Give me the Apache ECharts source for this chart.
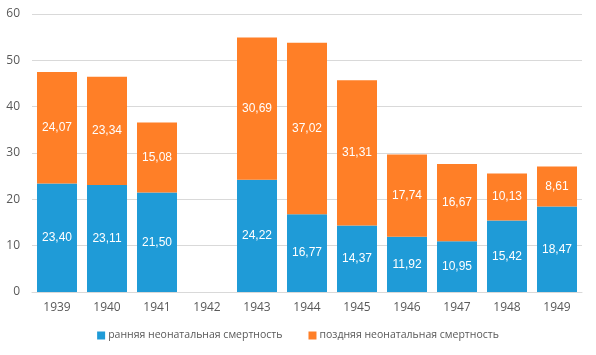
<!DOCTYPE html>
<html>
<head>
<meta charset="utf-8">
<script src="https://cdn.jsdelivr.net/npm/echarts@6/dist/echarts.min.js"></script>
<style>html,body{margin:0;padding:0;background:#fff}#c{width:596px;height:355px}</style>
</head>
<body>
<div id="c"></div>
<script>
const categories = ['1939','1940','1941','1942','1943','1944','1945','1946','1947','1948','1949'];
const earlyValues = [23.40, 23.11, 21.50, null, 24.22, 16.77, 14.37, 11.92, 10.95, 15.42, 18.47];
const lateValues  = [24.07, 23.34, 15.08, null, 30.69, 37.02, 31.31, 17.74, 16.67, 10.13, 8.61];
const seriesNames = ['ранняя неонатальная смертность', 'поздняя неонатальная смертность'];

const fmt = p => (p.value == null ? '' : p.value.toFixed(2).replace('.', ','));
const chart = echarts.init(document.getElementById('c'), null, {renderer: 'canvas'});
chart.setOption({
  animation: false,
  textStyle: {fontFamily: '"Open Sans", "DejaVu Sans", sans-serif'},
  grid: {left: 32, right: 14, top: 14, bottom: 63},
  legend: {
    bottom: 9, left: 'center', itemWidth: 8, itemHeight: 8, itemGap: 26,
    icon: 'rect',
    textStyle: {color: '#595959', fontSize: 10.5, fontFamily: '"Open Sans", sans-serif', padding: [0, 0, 0, -2]},
    data: seriesNames
  },
  xAxis: {
    type: 'category', data: categories,
    axisLine: {lineStyle: {color: '#d9d9d9'}},
    axisTick: {show: false},
    axisLabel: {color: '#595959', fontSize: 12, margin: 10}
  },
  yAxis: {
    type: 'value', min: 0, max: 60, interval: 10,
    axisLine: {show: false}, axisTick: {show: false},
    splitLine: {lineStyle: {color: '#d9d9d9'}},
    axisLabel: {color: '#595959', fontSize: 12, margin: 12}
  },
  series: [
    {name: seriesNames[0], type: 'bar', stack: 't', data: earlyValues, barCategoryGap: '20%',
     itemStyle: {color: '#1F9BD7'},
     label: {show: true, position: 'inside', color: '#fff', fontSize: 12, fontFamily: '"Liberation Sans", Arial, sans-serif', formatter: fmt}},
    {name: seriesNames[1], type: 'bar', stack: 't', data: lateValues, barCategoryGap: '20%',
     itemStyle: {color: '#FF7F27'},
     label: {show: true, position: 'inside', color: '#fff', fontSize: 12, fontFamily: '"Liberation Sans", Arial, sans-serif', formatter: fmt}}
  ]
});
</script>
</body>
</html>
